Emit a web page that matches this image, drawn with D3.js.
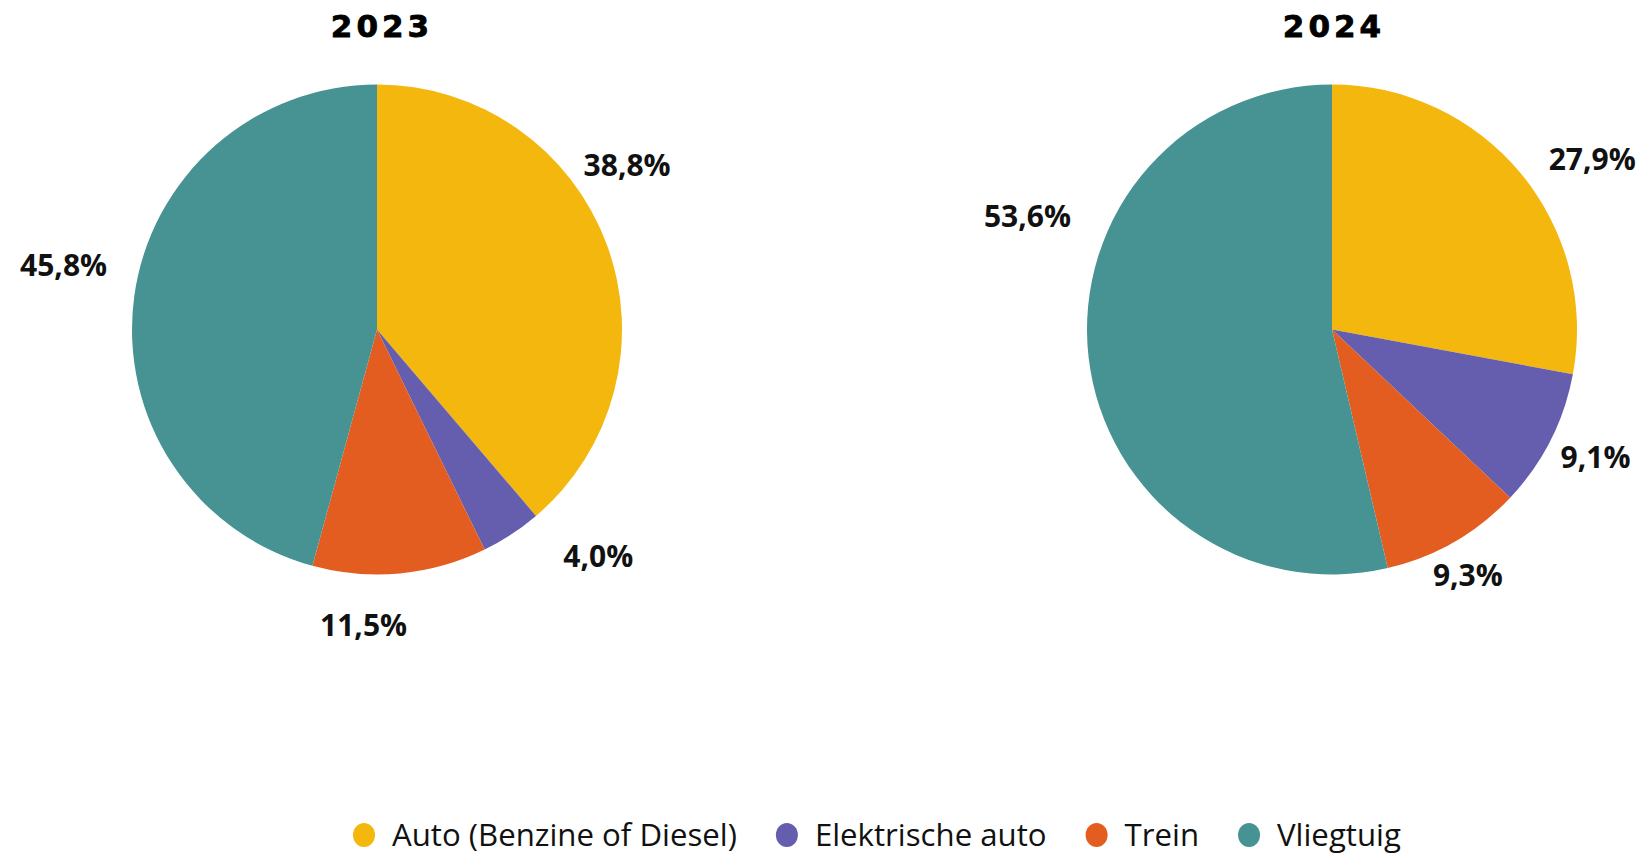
<!DOCTYPE html>
<html>
<head>
<meta charset="utf-8">
<script src="https://cdn.jsdelivr.net/npm/d3@7"></script>
<style>
  body { margin: 0; background: #fff; }
  svg { display: block; font-family: 'Open Sans', sans-serif; }
</style>
</head>
<body>
<svg id="chart" width="1644" height="853"></svg>
<script>
// Data
const categories = ['Auto (Benzine of Diesel)', 'Elektrische auto', 'Trein', 'Vliegtuig'];
const years = ['2023', '2024'];
const values2023 = [38.8, 4.0, 11.5, 45.8];
const values2024 = [27.9, 9.1, 9.3, 53.6];

const colors = ['#f4b70d', '#655dad', '#e45d20', '#479393'];

// label placement tweaks (degrees off the slice middle, px outside the rim)
const labelShift = [[-13, -11, 8, 4], [6.5, -1, 1, 27]];
const labelGap = [[54, 72, 51, 75], [66, 48, 36, 80]];

const svg = d3.select('#chart');
const radius = 245;
const centers = [{ x: 377, y: 329.5 }, { x: 1332, y: 329.5 }];

const pie = d3.pie().sort(null).value(d => d);
const arc = d3.arc().innerRadius(0).outerRadius(radius);
const fmt = v => v.toFixed(1).replace('.', ',') + '%';

[values2023, values2024].forEach((values, p) => {
    const c = centers[p];
    const g = svg.append('g').attr('transform', `translate(${c.x},${c.y})`);

    g.selectAll('path')
        .data(pie(values))
        .join('path')
        .attr('d', arc)
        .attr('fill', (d, i) => colors[i]);

    g.selectAll('text.lbl')
        .data(pie(values))
        .join('text')
        .attr('class', 'lbl')
        .attr('transform', (d, i) => {
            const a = (d.startAngle + d.endAngle) / 2 + labelShift[p][i] * Math.PI / 180;
            const r = radius + labelGap[p][i];
            return `translate(${r * Math.sin(a)},${-r * Math.cos(a)})`;
        })
        .attr('text-anchor', 'middle')
        .attr('dy', '0.36em')
        .attr('font-size', 30)
        .attr('font-weight', 700)
        .attr('fill', '#111')
        .text(d => fmt(d.data));

    svg.append('text')
        .attr('x', c.x + (p === 0 ? 5 : 2))
        .attr('y', 37)
        .attr('text-anchor', 'middle')
        .attr('font-family', 'DejaVu Sans, sans-serif')
        .attr('font-weight', 700)
        .attr('font-size', 31)
        .attr('letter-spacing', 4)
        .attr('stroke', '#000')
        .attr('stroke-width', 0.8)
        .attr('fill', '#000')
        .text(years[p]);
});

// Legend
const legend = svg.append('g').attr('transform', 'translate(364,835)');
let x = 0;
categories.forEach((name, i) => {
    const item = legend.append('g').attr('transform', `translate(${x},0)`);
    item.append('ellipse')
        .attr('rx', 11)
        .attr('ry', 12)
        .attr('fill', colors[i]);
    const t = item.append('text')
        .attr('x', 28)
        .attr('dy', '0.35em')
        .attr('font-size', 31.2)
        .attr('fill', '#111')
        .text(name);
    x += 28 + t.node().getComputedTextLength() + 50;
});
</script>
</body>
</html>
